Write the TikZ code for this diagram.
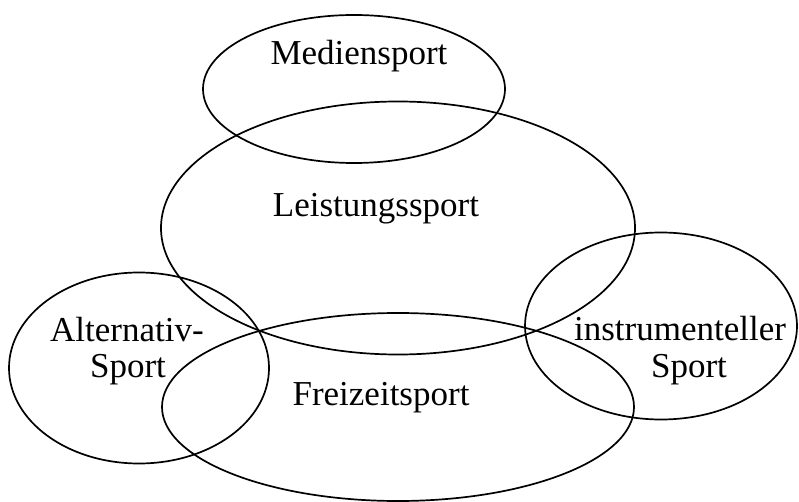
\documentclass[tikz,border=0pt]{standalone}
\usepackage{fontspec}
\setmainfont{Liberation Serif}
\usetikzlibrary{shapes.geometric}
\begin{document}
\begin{tikzpicture}[x=1pt,y=-1pt,
  ring/.style={ellipse,draw,line width=1.7pt,inner sep=0pt},
  lbl/.style={anchor=base,inner sep=0pt,font=\fontsize{35}{36}\selectfont}]
\useasboundingbox (0,0) rectangle (799,502);
\node[ring,minimum width=302pt,minimum height=148pt] (med) at (354,89) {};
\node[ring,minimum width=474pt,minimum height=253pt] (lei) at (398,228) {};
\node[ring,minimum width=260pt,minimum height=191pt] (alt) at (139,368) {};
\node[ring,minimum width=472pt,minimum height=188pt] (fre) at (398,407) {};
\node[ring,minimum width=272pt,minimum height=187pt] (ins) at (661,326) {};
\node[lbl] (tmed) at (359,65) {Mediensport};
\node[lbl] (tlei) at (376,217) {Leistungssport};
\node[lbl] (tfre) at (381,405) {Freizeitsport};
\node[lbl] (talt1) at (127,341) {Alternativ-};
\node[lbl] (talt2) at (128,377) {Sport};
\node[lbl] (tins1) at (680,340) {instrumenteller};
\node[lbl] (tins2) at (689,377) {Sport};
\end{tikzpicture}
\end{document}
